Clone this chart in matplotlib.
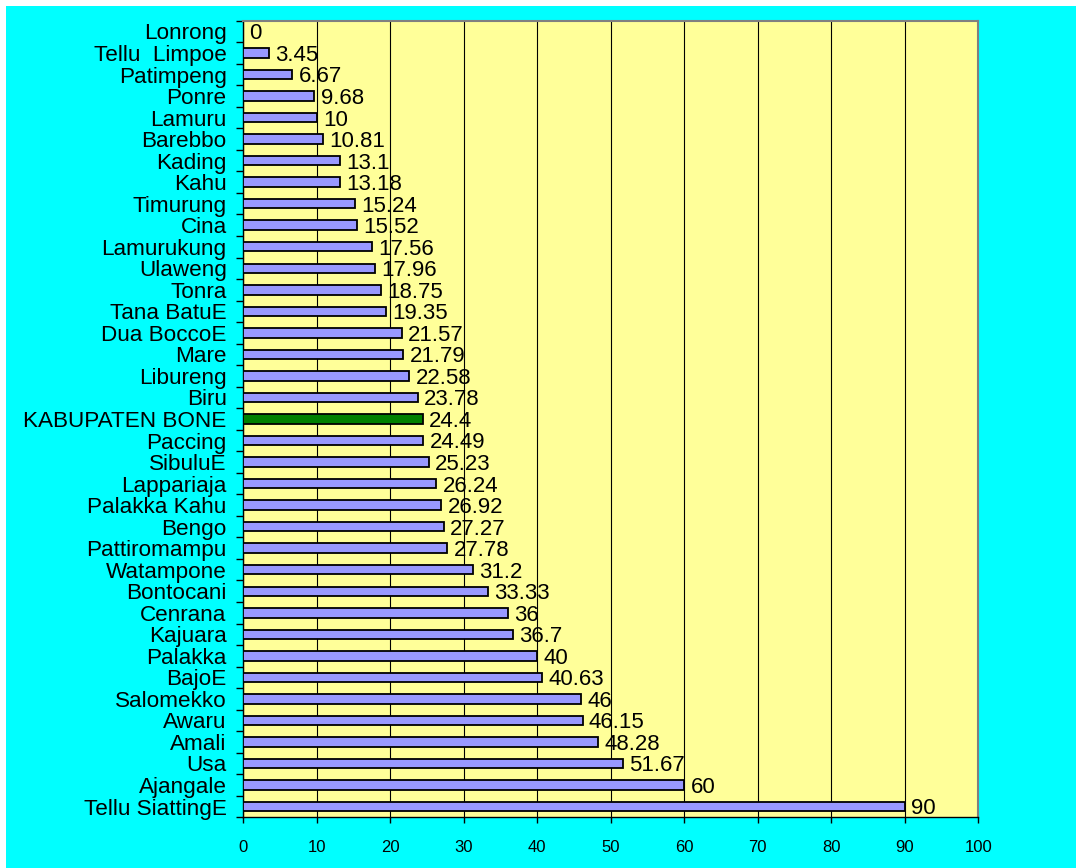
import matplotlib
matplotlib.use("Agg")
import matplotlib.pyplot as plt
from matplotlib.patches import Rectangle
from matplotlib.ticker import FixedLocator, NullFormatter

plt.rcParams['font.family'] = ['Liberation Sans', 'DejaVu Sans']

kecamatan = [
    "Lonrong", "Tellu  Limpoe", "Patimpeng", "Ponre", "Lamuru", "Barebbo",
    "Kading", "Kahu", "Timurung", "Cina", "Lamurukung", "Ulaweng", "Tonra",
    "Tana BatuE", "Dua BoccoE", "Mare", "Libureng", "Biru", "KABUPATEN BONE",
    "Paccing", "SibuluE", "Lappariaja", "Palakka Kahu", "Bengo",
    "Pattiromampu", "Watampone", "Bontocani", "Cenrana", "Kajuara", "Palakka",
    "BajoE", "Salomekko", "Awaru", "Amali", "Usa", "Ajangale",
    "Tellu SiattingE",
]
persen = [
    0, 3.45, 6.67, 9.68, 10, 10.81, 13.1, 13.18, 15.24, 15.52, 17.56, 17.96,
    18.75, 19.35, 21.57, 21.79, 22.58, 23.78, 24.4, 24.49, 25.23, 26.24,
    26.92, 27.27, 27.78, 31.2, 33.33, 36, 36.7, 40, 40.63, 46, 46.15, 48.28,
    51.67, 60, 90,
]
x_ticks = [0, 10, 20, 30, 40, 50, 60, 70, 80, 90, 100]

BAR_COLOR = "#9999FF"
TOTAL_COLOR = "#008000"
PANEL = "#FFFF99"
BG = "#00FFFF"

W, H = 1076, 868
fig = plt.figure(figsize=(W / 100, H / 100), dpi=100, facecolor="white")
# cyan chart area, leaving a thin white strip at the top and left
fig.patches.append(Rectangle((6 / W, 0), 1 - 6 / W, (H - 6) / H,
                             transform=fig.transFigure, facecolor=BG,
                             edgecolor="none", zorder=-10))

ax = fig.add_axes([243.3 / W, 50.7 / H, 735.0 / W, 796.6 / H])
ax.set_facecolor(PANEL)

n = len(kecamatan)
pos = list(range(n))
colors = [TOTAL_COLOR if k == "KABUPATEN BONE" else BAR_COLOR for k in kecamatan]
bars = ax.barh(pos, persen, height=0.44, color=colors, edgecolor="black",
               linewidth=1.3, zorder=3)

for b, v in zip(bars, persen):
    ax.annotate(f"{v:g}", xy=(b.get_width(), b.get_y() + b.get_height() / 2),
                xytext=(4.5, -5.7), textcoords="offset points", ha="left",
                va="baseline", fontsize=16, color="black", zorder=4)

ax.set_xlim(0, 100)
ax.set_ylim(n - 0.5, -0.5)

ax.set_xticks(x_ticks)
ax.set_xticklabels([str(t) for t in x_ticks], fontsize=12)
ax.tick_params(axis="x", direction="out", length=4, width=1, pad=12,
               colors="black")

ax.set_yticks(pos)
ax.set_yticklabels(kecamatan, fontsize=16.2)
ax.tick_params(axis="y", which="major", length=0, pad=12)
ax.yaxis.set_minor_locator(FixedLocator([i - 0.5 for i in range(n + 1)]))
ax.yaxis.set_minor_formatter(NullFormatter())
ax.tick_params(axis="y", which="minor", direction="out", length=5, width=1)

ax.xaxis.grid(True, color="black", linewidth=0.8)
ax.yaxis.grid(False)
ax.set_axisbelow(True)

for side in ("left", "bottom"):
    ax.spines[side].set_color("black")
    ax.spines[side].set_linewidth(1.0)
for side in ("top", "right"):
    ax.spines[side].set_color("#808080")
    ax.spines[side].set_linewidth(1.5)

fig.savefig("out.png", dpi=100, facecolor=fig.get_facecolor())
